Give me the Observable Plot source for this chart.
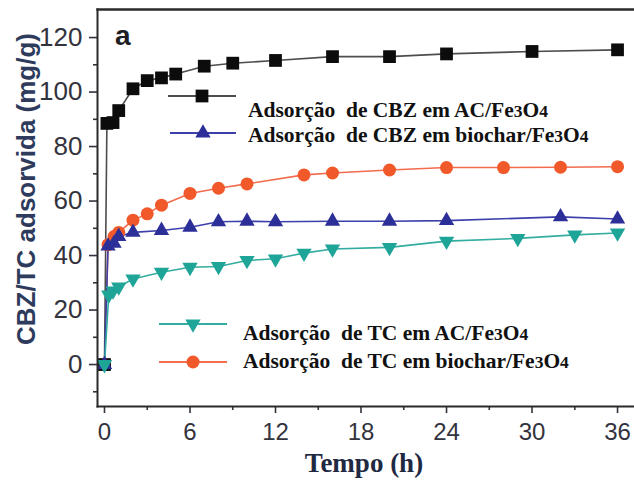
<!DOCTYPE html>
<html>
<head>
<meta charset="utf-8">
<script src="https://cdn.jsdelivr.net/npm/d3@7"></script>
<script src="https://cdn.jsdelivr.net/npm/@observablehq/plot@0.6"></script>
<style>
  html, body { margin: 0; padding: 0; background: #fff; }
  #chart svg { display: block; }
</style>
</head>
<body>
<div id="chart"></div>
<script>
// ---------- data ----------
const cbzAcTime  = [0, 0.17, 0.6, 1, 2, 3, 4, 5, 7, 9, 12, 16, 20, 24, 30, 36];
const cbzAcValue = [0, 88.5, 88.8, 93.2, 101.2, 104.2, 105.2, 106.6, 109.5, 110.6, 111.6, 113.0, 113.0, 114.0, 114.9, 115.5];

const cbzBioTime  = [0, 0.25, 0.67, 1, 2, 4, 6, 8, 10, 12, 16, 20, 24, 32, 36];
const cbzBioValue = [0, 43.5, 44.5, 47.0, 48.5, 49.2, 50.4, 52.4, 52.6, 52.4, 52.6, 52.6, 52.8, 54.2, 53.4];

const tcAcTime  = [0, 0.3, 0.6, 1, 2, 4, 6, 8, 10, 12, 14, 16, 20, 24, 29, 33, 36];
const tcAcValue = [0, 25.5, 27.0, 28.5, 31.4, 33.9, 35.7, 36.0, 38.2, 38.8, 40.9, 42.4, 43.0, 45.3, 46.3, 47.6, 48.3];

const tcBioTime  = [0, 0.25, 0.67, 1, 2, 3, 4, 6, 8, 10, 14, 16, 20, 24, 28, 32, 36];
const tcBioValue = [0, 44.0, 47.0, 48.5, 53.0, 55.3, 58.5, 62.8, 64.7, 66.3, 69.6, 70.3, 71.4, 72.3, 72.3, 72.4, 72.6];

const legendLabels = [
  "Adsorção\u00a0 de CBZ em AC/Fe3O4",
  "Adsorção\u00a0 de CBZ em biochar/Fe3O4",
  "Adsorção\u00a0 de TC em AC/Fe3O4",
  "Adsorção\u00a0 de TC em biochar/Fe3O4"
];
const xMajorTicks = [0, 6, 12, 18, 24, 30, 36];
const xMinorTicks = [3, 9, 15, 21, 27, 33];
const yMajorTicks = [0, 20, 40, 60, 80, 100, 120];
const yMinorTicks = [-10, 10, 30, 50, 70, 90, 110];
const xTitle = "Tempo (h)";
const yTitle = "CBZ/TC adsorvida (mg/g)";
const panelLabel = "a";

// ---------- symbols ----------
const downTriangle = {
  draw(ctx, size) {
    const y = Math.sqrt(size / (Math.sqrt(3) * 3));
    ctx.moveTo(0, 2 * y);
    ctx.lineTo(-Math.sqrt(3) * y, -y);
    ctx.lineTo(Math.sqrt(3) * y, -y);
    ctx.closePath();
  }
};

const toRows = (time, value) => time.map((t, i) => ({t, v: value[i]}));

const series = [
  {key: "tcBio",  rows: toRows(tcBioTime, tcBioValue),   fill: "#f1592b", line: "#f26c4d", symbol: "circle",   d3sym: d3.symbolCircle,   r: 6.5, label: legendLabels[3]},
  {key: "cbzAc",  rows: toRows(cbzAcTime, cbzAcValue),   fill: "#0c0c0c", line: "#4d4d4d", symbol: "square",   d3sym: d3.symbolSquare,   r: 7.2, label: legendLabels[0]},
  {key: "cbzBio", rows: toRows(cbzBioTime, cbzBioValue), fill: "#2c2f98", line: "#3d40aa", symbol: "triangle", d3sym: d3.symbolTriangle, r: 5.7, label: legendLabels[1]},
  {key: "tcAc",   rows: toRows(tcAcTime, tcAcValue),     fill: "#1ea598", line: "#33ad9f", symbol: downTriangle, d3sym: downTriangle,  r: 5.7, label: legendLabels[2]}
];

const sans = "'Liberation Sans', Arial, Helvetica, sans-serif";
const serif = "'Liberation Serif', 'Times New Roman', serif";
const axisColor = "#33333d";

const marks = [];
for (const s of series) {
  marks.push(Plot.line(s.rows, {x: "t", y: "v", stroke: s.line, strokeWidth: 1.6}));
}
for (const s of series) {
  marks.push(Plot.dot(s.rows, {x: "t", y: "v", symbol: s.symbol, r: s.r, fill: s.fill, stroke: "none"}));
}

const chart = Plot.plot({
  width: 634,
  height: 484,
  marginLeft: 97,
  marginRight: 0,
  marginTop: 9,
  marginBottom: 78,
  x: {domain: [-0.49, 37.19]},
  y: {domain: [-15.4, 130.3]},
  style: {background: "#fff", fontFamily: sans, overflow: "visible"},
  marks: [
    Plot.axisY({ticks: yMajorTicks, tickSize: 8, tickPadding: 7, fontSize: 26, fontFamily: sans, color: axisColor, strokeWidth: 1.6, label: null}),
    Plot.axisY({ticks: yMinorTicks, tickSize: 4, tickFormat: () => "", color: axisColor, strokeWidth: 1.6, label: null}),
    Plot.axisX({ticks: xMajorTicks, tickSize: 7, tickPadding: 9, fontSize: 24, fontFamily: sans, color: axisColor, strokeWidth: 1.6, label: null}),
    Plot.axisX({ticks: xMinorTicks, tickSize: 4, tickFormat: () => "", color: axisColor, strokeWidth: 1.6, label: null}),
    ...marks,
    Plot.frame({anchor: "left", stroke: "#2a2a2a", strokeWidth: 2}),
    Plot.frame({anchor: "top", stroke: "#2a2a2a", strokeWidth: 2.4}),
    Plot.frame({anchor: "bottom", stroke: "#2a2a2a", strokeWidth: 2})
  ]
});

document.getElementById("chart").appendChild(chart);

// ---------- annotations & legend ----------
const svg = d3.select(chart);

svg.append("text")
  .attr("x", 115).attr("y", 45)
  .attr("text-anchor", "start")
  .attr("font-family", sans).attr("font-weight", "bold").attr("font-size", 28)
  .attr("fill", "#1e1e24")
  .text(panelLabel);

svg.append("text")
  .attr("transform", "translate(26,189) rotate(-90)")
  .attr("text-anchor", "middle").attr("dy", "0.35em")
  .attr("font-family", sans).attr("font-weight", "bold").attr("font-size", 26)
  .attr("fill", "#2f3b5c")
  .text(yTitle);

svg.append("text")
  .attr("x", 364).attr("y", 472)
  .attr("text-anchor", "middle")
  .attr("font-family", serif).attr("font-weight", "bold").attr("font-size", 27)
  .attr("fill", "#1f2942")
  .text(xTitle);

const byKey = Object.fromEntries(series.map(s => [s.key, s]));
const legendLayout = [
  {key: "cbzAc",  x1: 168, x2: 236, y: 96,  tx: 248, ty: 117},
  {key: "cbzBio", x1: 170, x2: 236, y: 133, tx: 248, ty: 142},
  {key: "tcAc",   x1: 159, x2: 227, y: 324, tx: 243, ty: 340},
  {key: "tcBio",  x1: 159, x2: 227, y: 362, tx: 243, ty: 368}
];
const leg = svg.append("g").attr("text-anchor", "start");
for (const L of legendLayout) {
  const s = byKey[L.key];
  leg.append("line")
    .attr("x1", L.x1).attr("x2", L.x2).attr("y1", L.y).attr("y2", L.y)
    .attr("stroke", s.line).attr("stroke-width", 2.2);
  leg.append("path")
    .attr("transform", `translate(${(L.x1 + L.x2) / 2},${L.y})`)
    .attr("d", d3.symbol(s.d3sym, s.r * s.r * Math.PI)())
    .attr("fill", s.fill);
  const t = leg.append("text")
    .attr("x", L.tx).attr("y", L.ty)
    .attr("text-anchor", "start")
    .attr("font-family", serif).attr("font-weight", "bold").attr("font-size", 21.5)
    .attr("fill", "#111")
    .style("white-space", "pre");
  for (const part of s.label.split(/(\d)/)) {
    if (!part) continue;
    const sp = t.append("tspan").text(part);
    if (/^\d$/.test(part)) sp.attr("font-size", 17.5);
  }
}
</script>
</body>
</html>
